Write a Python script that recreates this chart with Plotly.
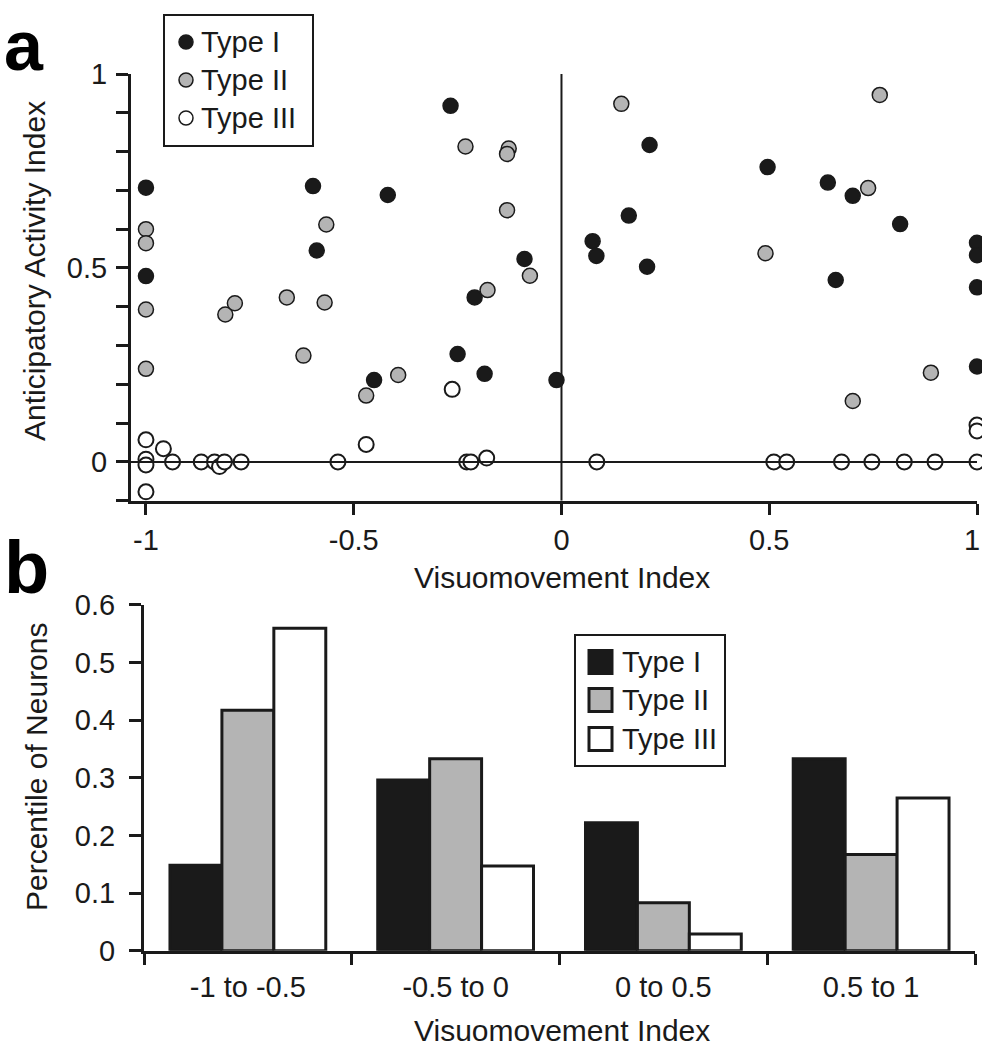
import plotly.graph_objects as go

# ---------------- Panel a data (scatter) ----------------
type1_x = [-1, -1, -0.598, -0.418, -0.589, -0.267, -0.089, -0.209, -0.25, -0.185,
           -0.451, -0.012, 0.212, 0.162, 0.075, 0.084, 0.206, 0.496, 0.641, 0.701,
           0.815, 1, 1, 0.66, 1, 1]
type1_y = [0.707, 0.479, 0.711, 0.688, 0.545, 0.918, 0.523, 0.424, 0.278, 0.227,
           0.211, 0.211, 0.817, 0.635, 0.569, 0.531, 0.503, 0.76, 0.72, 0.686,
           0.613, 0.565, 0.533, 0.469, 0.45, 0.246]

type2_x = [-1, -1, -1, -1, -0.566, -0.809, -0.786, -0.661, -0.570, -0.621,
           -0.47, -0.393, -0.231, -0.127, -0.131, -0.131, -0.076, -0.178, 0.144,
           0.766, 0.738, 0.491, 0.889, 0.701]
type2_y = [0.60, 0.564, 0.393, 0.24, 0.612, 0.38, 0.409, 0.424, 0.411, 0.274,
           0.171, 0.224, 0.813, 0.808, 0.794, 0.649, 0.48, 0.443, 0.923,
           0.946, 0.706, 0.538, 0.23, 0.157]

type3_x = [-1, -0.958, -1, -1, -1, -0.936, -0.867, -0.835, -0.823, -0.811,
           -0.771, -0.538, -0.47, -0.263, -0.228, -0.218, -0.18, 0.085, 0.511,
           0.542, 0.674, 0.747, 0.825, 0.899, 1, 1, 1]
type3_y = [0.057, 0.034, 0.007, -0.008, -0.077, 0, 0, 0, -0.012, 0,
           0, 0, 0.045, 0.187, 0, 0, 0.01, 0, 0,
           0, 0, 0, 0, 0, 0, 0.095, 0.08]

a_xticks = [-1, -0.5, 0, 0.5, 1]
a_xticktext = ["-1", "-0.5", "0", "0.5", "1"]
a_yticks = [-0.1, 0, 0.1, 0.2, 0.3, 0.4, 0.5, 0.6, 0.7, 0.8, 0.9, 1.0]
a_yticktext = ["", "0", "", "", "", "", "0.5", "", "", "", "", "1"]

# ---------------- Panel b data (bars) ----------------
categories = ["-1 to -0.5", "-0.5 to 0", "0 to 0.5", "0.5 to 1"]
bar_type1 = [0.148, 0.296, 0.222, 0.333]
bar_type2 = [0.417, 0.333, 0.083, 0.167]
bar_type3 = [0.559, 0.147, 0.029, 0.265]

series_names = ["Type I", "Type II", "Type III"]

# ---------------- styling ----------------
W, H = 982, 1050
INK = "#1a1a1a"
GRAY = "#b4b4b4"
FONT = "Liberation Sans, Arial, sans-serif"
FS_TICK = 29
FS_TITLE = 30
FS_LEG = 29


def px(x):
    """page x pixel -> paper fraction"""
    return x / W


def py(y):
    """page y pixel -> paper fraction"""
    return 1 - y / H


fig = go.Figure()

marker_styles = [
    dict(color=INK, line=dict(color=INK, width=1.5)),
    dict(color=GRAY, line=dict(color=INK, width=1.5)),
    dict(color="white", line=dict(color=INK, width=2)),
]
for name, xs, ys, ms in zip(series_names, [type1_x, type2_x, type3_x],
                            [type1_y, type2_y, type3_y], marker_styles):
    fig.add_trace(go.Scatter(x=xs, y=ys, mode="markers", name=name,
                             marker=dict(size=15, **ms), cliponaxis=False,
                             showlegend=False, xaxis="x", yaxis="y"))

bar_fills = [INK, GRAY, "white"]
for name, vals, fill in zip(series_names, [bar_type1, bar_type2, bar_type3], bar_fills):
    fig.add_trace(go.Bar(x=categories, y=vals, name=name,
                         marker=dict(color=fill, line=dict(color=INK, width=3)),
                         showlegend=False, xaxis="x2", yaxis="y2"))

axis_common = dict(showline=True, linewidth=3, linecolor=INK, ticks="outside",
                   tickwidth=3, tickcolor=INK, showgrid=False, zeroline=False,
                   automargin=False, ticklabeloverflow="allow",
                   tickfont=dict(family=FONT, size=FS_TICK, color=INK))

# the last x tick label of panel a sits at the page edge: draw it as a
# right-anchored annotation so it stays fully inside the page
a_xticktext_axis = a_xticktext[:-1] + [""]

fig.update_layout(
    width=W, height=H, autosize=False,
    margin=dict(l=0, r=0, t=0, b=0, pad=0, autoexpand=False),
    paper_bgcolor="white", plot_bgcolor="white",
    font=dict(family=FONT, size=FS_TICK, color=INK),
    barmode="group", bargap=0.25, bargroupgap=0,
    xaxis=dict(domain=[px(131), px(977)], range=[-1.036, 1.0], tickvals=a_xticks,
               ticktext=a_xticktext_axis, ticklen=11, anchor="y", **axis_common),
    yaxis=dict(domain=[py(500.7), py(74)], range=[-0.1, 1.0], tickvals=a_yticks,
               ticktext=a_yticktext, ticklen=12, anchor="x",
               ticklabelstandoff=3, **axis_common),
    xaxis2=dict(domain=[px(144), px(975)], type="category", range=[-0.5, 3.5],
                tickson="boundaries", ticklen=11, anchor="y2",
                ticklabelstandoff=8, **axis_common),
    yaxis2=dict(domain=[py(950.7), py(604.7)], range=[0, 0.6], dtick=0.1,
                tickformat=".1~f", ticklen=12, anchor="x2",
                ticklabelstandoff=8, **axis_common),
)

shapes = [
    dict(type="line", xref="x", yref="y", x0=0, x1=0, y0=-0.1, y1=1.003,
         line=dict(color=INK, width=2)),
    dict(type="line", xref="x", yref="y", x0=-1.036, x1=1.0, y0=0, y1=0,
         line=dict(color=INK, width=2)),
    dict(type="rect", xref="paper", yref="paper", x0=px(164), x1=px(313),
         y0=py(146), y1=py(15), line=dict(color=INK, width=2), fillcolor="white"),
    dict(type="rect", xref="paper", yref="paper", x0=px(575), x1=px(725),
         y0=py(766), y1=py(635), line=dict(color=INK, width=2), fillcolor="white"),
]
annotations = []

leg_a_y = [42, 80, 118]
for name, yy, ms in zip(series_names, leg_a_y, marker_styles):
    shapes.append(dict(type="circle", xref="paper", yref="paper",
                       xsizemode="pixel", ysizemode="pixel",
                       xanchor=px(186), yanchor=py(yy), x0=-7, x1=7, y0=-7, y1=7,
                       fillcolor=ms["color"], line=dict(color=INK, width=1.5)))
    annotations.append(dict(text=name, xref="paper", yref="paper", x=px(199),
                            y=py(yy), xanchor="left", yanchor="middle",
                            showarrow=False, font=dict(size=FS_LEG)))

leg_b_y = [662, 700, 739]
for name, yy, fill in zip(series_names, leg_b_y, bar_fills):
    shapes.append(dict(type="rect", xref="paper", yref="paper",
                       x0=px(589), x1=px(612), y0=py(yy + 11.5), y1=py(yy - 11.5),
                       fillcolor=fill, line=dict(color=INK, width=3)))
    annotations.append(dict(text=name, xref="paper", yref="paper", x=px(620),
                            y=py(yy), xanchor="left", yanchor="middle",
                            showarrow=False, font=dict(size=FS_LEG)))

annotations += [
    dict(text=a_xticktext[-1], xref="paper", yref="paper", x=1.0, y=py(540),
         xanchor="right", yanchor="middle", showarrow=False,
         font=dict(size=FS_TICK)),
    dict(text="Anticipatory Activity Index", xref="paper", yref="paper",
         x=px(34), y=py(271), textangle=-90, showarrow=False,
         xanchor="center", yanchor="middle", font=dict(size=FS_TITLE)),
    dict(text="Visuomovement Index", xref="paper", yref="paper",
         x=px(562), y=py(577), showarrow=False, xanchor="center",
         yanchor="middle", font=dict(size=FS_TITLE)),
    dict(text="Percentile of Neurons", xref="paper", yref="paper",
         x=px(36), y=py(767), textangle=-90, showarrow=False,
         xanchor="center", yanchor="middle", font=dict(size=FS_TITLE)),
    dict(text="Visuomovement Index", xref="paper", yref="paper",
         x=px(562), y=py(1030), showarrow=False, xanchor="center",
         yanchor="middle", font=dict(size=FS_TITLE)),
    dict(text="<b>a</b>", xref="paper", yref="paper", x=px(2), y=py(46),
         showarrow=False, xanchor="left", yanchor="middle",
         font=dict(size=70, color="black")),
    dict(text="<b>b</b>", xref="paper", yref="paper", x=px(2), y=py(567),
         showarrow=False, xanchor="left", yanchor="middle",
         font=dict(size=74, color="black")),
]

fig.update_layout(shapes=shapes, annotations=annotations)
fig.write_html(
    "out.html",
    config={"displayModeBar": False},
    post_script="document.body.style.margin='0';document.body.style.overflow='hidden';",
)
